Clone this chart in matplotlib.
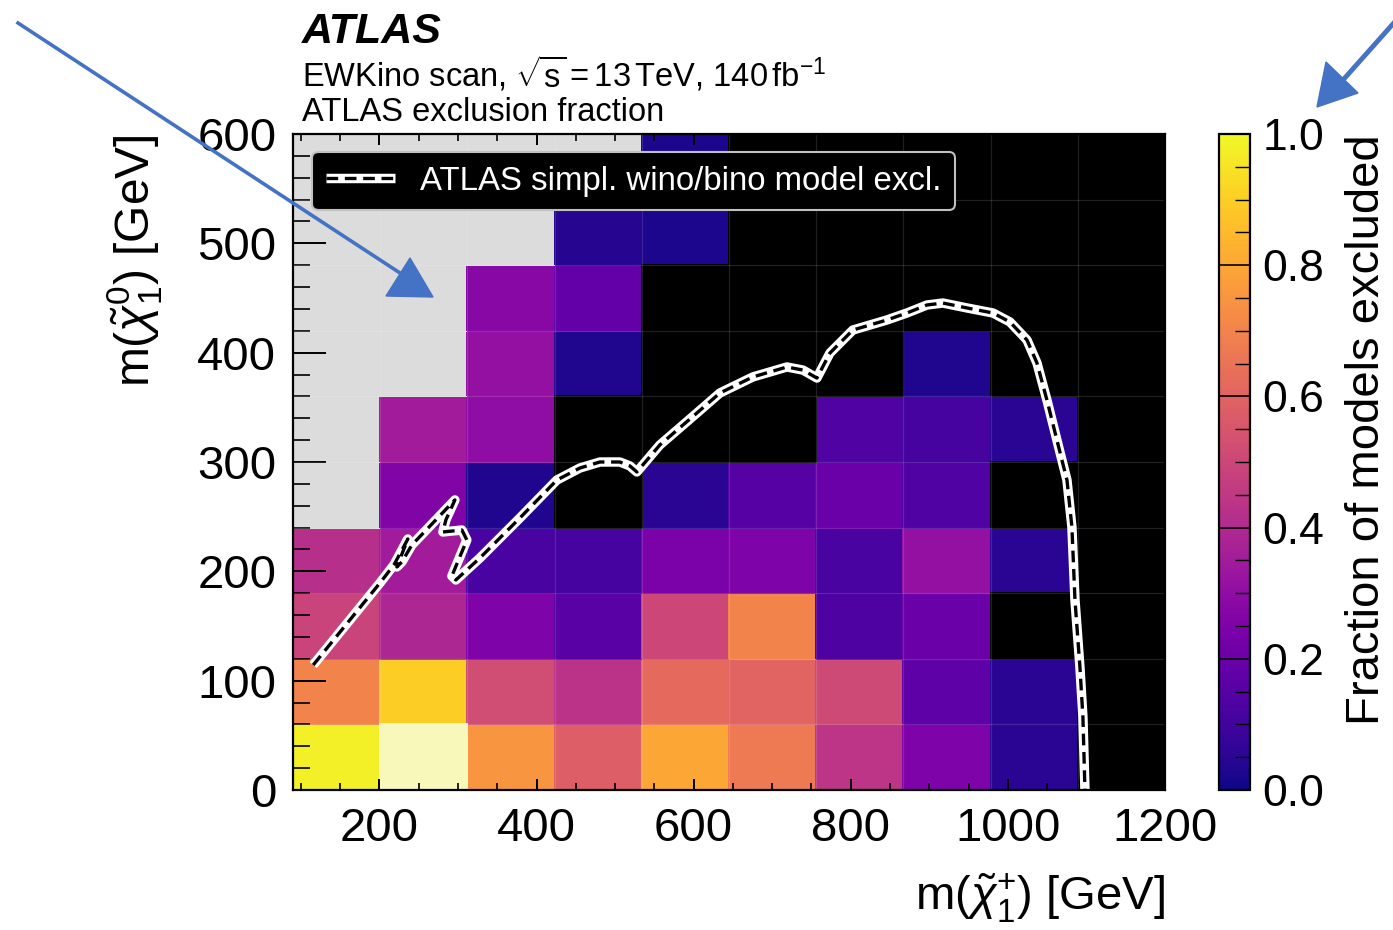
import numpy as np
import matplotlib
matplotlib.use("Agg")
import matplotlib.pyplot as plt
from matplotlib.colors import ListedColormap, Normalize
from matplotlib.lines import Line2D
from matplotlib.patches import Polygon
from matplotlib.ticker import MultipleLocator, FormatStrFormatter

plt.rcParams['font.family'] = ['Liberation Sans', 'DejaVu Sans']
plt.rcParams['mathtext.fontset'] = 'custom'
plt.rcParams['mathtext.rm'] = 'Liberation Sans'
plt.rcParams['mathtext.it'] = 'Liberation Sans:italic'
plt.rcParams['mathtext.bf'] = 'Liberation Sans:bold'

# Bin edges of the scan [GeV]
chargino_edges = [90, 201, 312, 423, 534, 645, 756, 867, 978, 1089, 1200]
neutralino_edges = [0, 60, 120, 180, 240, 300, 360, 420, 480, 540, 600]

nan = np.nan
# Fraction of models excluded per bin; rows = neutralino bins (bottom to top),
# columns = chargino bins (left to right); nan = no models in the bin
excluded_fraction = [
    [0.98, 1.00, 0.75, 0.58, 0.80, 0.67, 0.44, 0.25, 0.05, 0.00],
    [0.70, 0.90, 0.52, 0.43, 0.62, 0.60, 0.51, 0.17, 0.05, 0.00],
    [0.49, 0.39, 0.25, 0.16, 0.50, 0.70, 0.13, 0.20, 0.00, 0.00],
    [0.42, 0.35, 0.12, 0.11, 0.24, 0.25, 0.12, 0.31, 0.05, 0.00],
    [nan,  0.26, 0.03, 0.00, 0.05, 0.15, 0.20, 0.14, 0.00, 0.00],
    [nan,  0.35, 0.30, 0.00, 0.00, 0.00, 0.14, 0.11, 0.05, 0.00],
    [nan,  nan,  0.31, 0.03, 0.00, 0.00, 0.00, 0.03, 0.00, 0.00],
    [nan,  nan,  0.28, 0.18, 0.00, 0.00, 0.00, 0.00, 0.00, 0.00],
    [nan,  nan,  nan,  0.04, 0.02, 0.00, 0.00, 0.00, 0.00, 0.00],
    [nan,  nan,  nan,  nan,  0.02, 0.00, 0.00, 0.00, 0.00, 0.00],
]

# Simplified wino/bino model exclusion contour
excl_x = [115.7, 200.6, 218.4, 236.2, 222.2, 228.6, 241.3, 296.1, 284.6, 280.8,
          305.0, 311.3, 292.2, 297.3, 327.9, 378.8, 425.9, 455.2, 480.7, 506.1,
          518.8, 527.7, 557.0, 604.1, 633.4, 675.4, 718.7, 739.1, 756.9, 773.5,
          802.7, 846.0, 871.5, 897.0, 917.3, 947.9, 981.0, 1002.6, 1024.3, 1037.0,
          1049.7, 1062.4, 1075.2, 1081.5, 1085.4, 1091.7, 1095.5, 1098.1]
excl_y = [114.3, 189.3, 205.8, 229.6, 204.0, 208.6, 224.1, 265.3, 247.0, 236.0,
          237.8, 228.7, 195.7, 192.1, 212.2, 248.8, 283.5, 294.5, 300.0, 300.0,
          296.4, 290.9, 315.6, 344.8, 363.1, 377.8, 386.9, 384.1, 376.8, 399.7,
          420.7, 429.9, 436.3, 443.6, 445.4, 440.9, 436.3, 428.1, 411.6, 390.6,
          356.7, 320.1, 283.5, 240.6, 173.8, 112.5, 66.8, 0.0]

W, H = 1393, 930
fig = plt.figure(figsize=(W / 100, H / 100), dpi=100)
ax = fig.add_axes([293 / W, 1 - 790 / H, 872 / W, 656 / H])

frac = np.array(excluded_fraction, dtype=float)
xe = np.array(chargino_edges, dtype=float)
ye = np.array(neutralino_edges, dtype=float)

cmap = plt.get_cmap('plasma').copy()
cmap.set_bad('#dcdcdc')
norm = Normalize(vmin=0.0, vmax=1.0)
mesh = ax.pcolormesh(xe, ye, np.ma.masked_invalid(frac), cmap=cmap, norm=norm,
                     edgecolors='face', linewidth=0.3)

# bins with no excluded model, and bins with all models excluded
zero_bins = np.ma.masked_where(~(frac == 0), frac)
ax.pcolormesh(xe, ye, zero_bins, cmap=ListedColormap(['black']),
              edgecolors='face', linewidth=0.3)
full_bins = np.ma.masked_where(~(frac >= 1.0), frac)
ax.pcolormesh(xe, ye, full_bins, cmap=ListedColormap(['#f9f8bb']),
              edgecolors='face', linewidth=0.3)

# faint bin boundaries
ax.hlines(ye[1:-1], xe[0], xe[-1], colors='white', alpha=0.13, lw=0.9, zorder=3)
ax.vlines(xe[1:-1], ye[0], ye[-1], colors='white', alpha=0.13, lw=0.9, zorder=3)

# exclusion contour: white band with black dashes
halo, = ax.plot(excl_x, excl_y, color='white', lw=6.8, solid_joinstyle='round',
                solid_capstyle='butt', zorder=5)
dash, = ax.plot(excl_x, excl_y, color='black', lw=2.4, ls=(0, (3.5, 2.0)),
                dash_joinstyle='round', zorder=6)

ax.set_xlim(chargino_edges[0], chargino_edges[-1])
ax.set_ylim(neutralino_edges[0], neutralino_edges[-1])

ax.xaxis.set_major_locator(MultipleLocator(200))
ax.xaxis.set_minor_locator(MultipleLocator(50))
ax.yaxis.set_major_locator(MultipleLocator(100))
ax.yaxis.set_minor_locator(MultipleLocator(20))
ax.tick_params(axis='x', which='major', direction='in', length=8, width=1.4,
               top=True, bottom=True, labelsize=34, pad=12)
ax.tick_params(axis='x', which='minor', direction='in', length=5, width=1.2,
               top=True, bottom=True)
ax.tick_params(axis='y', which='major', direction='in', length=24, width=1.4,
               left=True, right=True, labelsize=34, pad=12)
ax.tick_params(axis='y', which='minor', direction='in', length=12, width=1.2,
               left=True, right=True)
for sp in ax.spines.values():
    sp.set_linewidth(1.6)
    sp.set_zorder(10)

ax.set_xlabel(r'm($\tilde{\chi}^{+}_{1}$) [GeV]', fontsize=34, loc='right')
ax.xaxis.set_label_coords(1.0, -0.125)
ax.set_ylabel(r'm($\tilde{\chi}^{0}_{1}$) [GeV]', fontsize=34.5, loc='top')
ax.yaxis.set_label_coords(-0.148, 1.0)

leg = ax.legend(handles=[(halo, dash)], labels=['ATLAS simpl. wino/bino model excl.'],
                loc='upper left', bbox_to_anchor=(0.0218, 0.973), borderaxespad=0,
                fontsize=23.8, frameon=True, facecolor='black', edgecolor='#c0c0c0',
                framealpha=1, handlelength=2.1, handletextpad=0.75, borderpad=0.42)
for t in leg.get_texts():
    t.set_color('white')
leg.get_frame().set_linewidth(1.5)
leg.set_zorder(8)

# colour scale
cax = fig.add_axes([1219 / W, 1 - 790 / H, 31 / W, 656 / H])
cb = fig.colorbar(mesh, cax=cax)
cb.set_ticks([0.0, 0.2, 0.4, 0.6, 0.8, 1.0])
cb.ax.yaxis.set_major_formatter(FormatStrFormatter('%.1f'))
cb.ax.yaxis.set_minor_locator(MultipleLocator(0.05))
cb.ax.tick_params(which='major', direction='in', length=22, width=1.2,
                  labelsize=32, pad=9)
cb.ax.tick_params(which='minor', direction='in', length=11, width=1.0)
cb.outline.set_linewidth(1.6)
cb.set_label('Fraction of models excluded', fontsize=34, loc='top')
cb.ax.yaxis.set_label_coords(4.05, 1.0)

# header
fig.text(302 / W, 1 - 43 / H, 'ATLAS', fontsize=31, fontweight='bold',
         fontstyle='italic', va='baseline')
fig.text(302 / W, 1 - 86 / H,
         r'EWKino scan, $\sqrt{\mathrm{s}} = 13\,$TeV, 140$\,$fb$^{-1}$',
         fontsize=23.5, va='baseline')
fig.text(302 / W, 1 - 121 / H, 'ATLAS exclusion fraction', fontsize=23.5,
         va='baseline')

# hand-drawn pointer arrows
blue = '#4472c4'
fig.add_artist(Line2D([18 / W, 400 / W], [1 - 23 / H, 1 - 273 / H],
                      transform=fig.transFigure, color=blue, lw=2.6, zorder=20))
fig.add_artist(Polygon([[410 / W, 1 - 258 / H], [386 / W, 1 - 296 / H], [433 / W, 1 - 297 / H]],
                       closed=True, transform=fig.transFigure, color=blue, zorder=20))
fig.add_artist(Line2D([1400 / W, 1343 / W], [1 - 16 / H, 1 - 80 / H],
                      transform=fig.transFigure, color=blue, lw=3.5, zorder=20))
fig.add_artist(Polygon([[1326 / W, 1 - 62 / H], [1358 / W, 1 - 93 / H], [1317 / W, 1 - 107 / H]],
                       closed=True, transform=fig.transFigure, color=blue, zorder=20))

fig.savefig('out.png', dpi=100)
